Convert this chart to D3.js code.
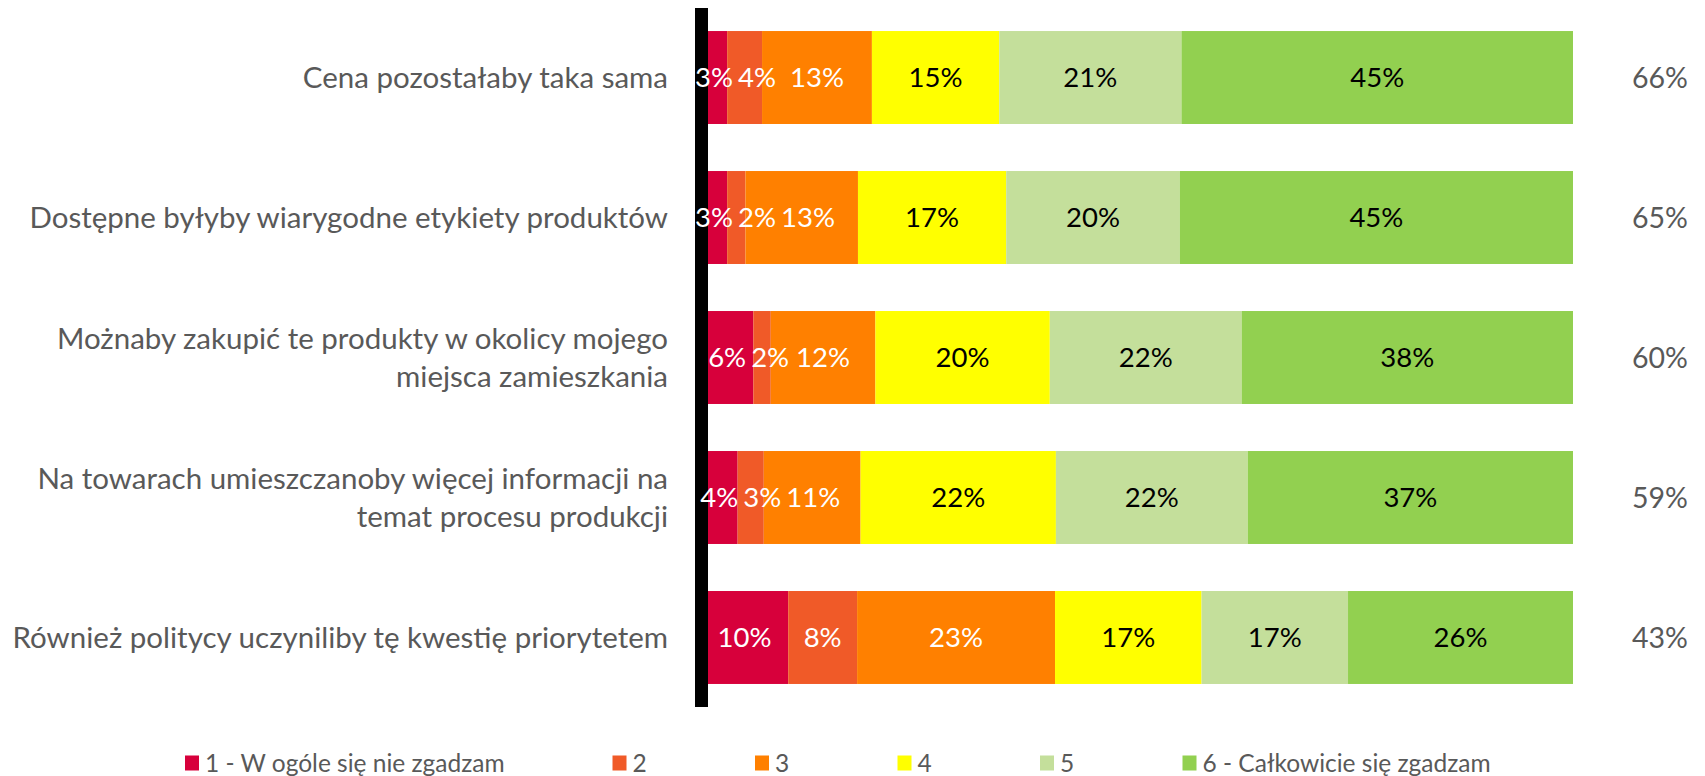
<!DOCTYPE html>
<html lang="pl">
<head>
<meta charset="utf-8">
<title>Wykres</title>
<script src="https://cdn.jsdelivr.net/npm/d3@7"></script>
<style>
  html, body { margin: 0; padding: 0; background: #fff; }
  svg { display: block; font-family: Lato, "Open Sans", sans-serif; }
</style>
</head>
<body>
<div id="chart"></div>
<script>
const categories = [
  "Cena pozostałaby taka sama",
  "Dostępne byłyby wiarygodne etykiety produktów",
  "Możnaby zakupić te produkty w okolicy mojego\nmiejsca zamieszkania",
  "Na towarach umieszczanoby więcej informacji na\ntemat procesu produkcji",
  "Również politycy uczyniliby tę kwestię priorytetem"
];
const seriesNames = ["1 - W ogóle się nie zgadzam", "2", "3", "4", "5", "6 - Całkowicie się zgadzam"];
const sr1 = [3.0, 3.0, 6.0, 4.2, 10.0];
const sr2 = [4.0, 2.1, 2.0, 3.0, 7.9];
const sr3 = [12.6, 12.9, 12.0, 11.1, 22.7];
const sr4 = [14.6, 17.0, 20.0, 22.4, 16.8];
const sr5 = [20.9, 19.9, 22.0, 22.0, 16.8];
const sr6 = [44.9, 45.1, 38.0, 37.3, 25.8];

(function () {
  "use strict";

  const PALETTE = {
    series: ["#d7003b", "#f05a28", "#ff8000", "#ffff00", "#c4df9b", "#92d050"],
    labelOn: ["#ffffff", "#ffffff", "#ffffff", "#000000", "#000000", "#000000"],
    text: "#595959",
    axis: "#000000",
  };

  const width = 1705;
  const height = 776;
  const seriesValues = [sr1, sr2, sr3, sr4, sr5, sr6];

  const rows = categories.map((c, i) => {
    const row = { category: c };
    seriesNames.forEach((s, j) => (row[s] = seriesValues[j][i]));
    return row;
  });

  const stacked = d3.stack().keys(seriesNames)(rows);

  const svg = d3
    .select("#chart")
    .append("svg")
    .attr("width", width)
    .attr("height", height)
    .attr("viewBox", `0 0 ${width} ${height}`);

  const x = d3.scaleLinear().domain([0, 100]).range([701, 1573]);
  const y = d3
    .scaleBand()
    .domain(categories)
    .range([8, 707])
    .paddingInner(0.336)
    .paddingOuter(0.1645);

  svg
    .append("g")
    .selectAll("g")
    .data(stacked)
    .join("g")
    .attr("fill", (d, i) => PALETTE.series[i])
    .selectAll("rect")
    .data((d) => d)
    .join("rect")
    .attr("x", (d) => x(d[0]))
    .attr("y", (d) => y(d.data.category))
    .attr("width", (d) => x(d[1]) - x(d[0]))
    .attr("height", y.bandwidth());

  // thick vertical baseline, over the bars but under the labels
  svg
    .append("line")
    .attr("x1", x(0) + 0.5)
    .attr("x2", x(0) + 0.5)
    .attr("y1", y.range()[0])
    .attr("y2", y.range()[1])
    .attr("stroke", PALETTE.axis)
    .attr("stroke-width", 13);

  // percent labels, one row at a time, centred in their segment; a label
  // that would run into its left neighbour is pushed right (thin segments)
  const labelGap = 5;
  const labelLayer = svg.append("g");
  rows.forEach((row, r) => {
    let prevRight = -Infinity;
    stacked.forEach((layer, i) => {
      const d = layer[r];
      const t = labelLayer
        .append("text")
        .attr("y", y(row.category) + y.bandwidth() / 2)
        .attr("dy", "0.36em")
        .attr("text-anchor", "middle")
        .attr("fill", PALETTE.labelOn[i])
        .attr("font-size", 27.5)
        .text(Math.round(d[1] - d[0]) + "%");
      const w = t.node().getComputedTextLength();
      const cx = Math.max((x(d[0]) + x(d[1])) / 2, prevRight + labelGap + w / 2);
      t.attr("x", cx);
      prevRight = cx + w / 2;
    });
  });

  // category labels, right aligned, manual line breaks
  svg
    .selectAll("text.cat")
    .data(categories)
    .join("text")
    .attr("class", "cat")
    .attr("text-anchor", "end")
    .attr("fill", PALETTE.text)
    .attr("font-size", 29.5)
    .each(function (c) {
      const lines = c.split("\n");
      const cy = y(c) + y.bandwidth() / 2;
      const lh = 38;
      d3.select(this)
        .selectAll("tspan")
        .data(lines)
        .join("tspan")
        .attr("x", 668)
        .attr("y", (l, k) => cy + (k - (lines.length - 1) / 2) * lh)
        .attr("dy", "0.36em")
        .text((l) => l);
    });

  // top-two-box totals (5 + 6) on the right
  svg
    .selectAll("text.total")
    .data(rows)
    .join("text")
    .attr("class", "total")
    .attr("x", 1660)
    .attr("y", (d) => y(d.category) + y.bandwidth() / 2)
    .attr("dy", "0.36em")
    .attr("text-anchor", "middle")
    .attr("fill", PALETTE.text)
    .attr("font-size", 28.5)
    .text((d) => Math.round(d[seriesNames[4]] + d[seriesNames[5]]) + "%");

  // legend on a fixed column grid, long entries take several columns
  const colW = 142.5;
  const legend = svg.append("g").attr("transform", "translate(185,763)");
  let col = 0;
  seriesNames.forEach((s, i) => {
    const item = legend.append("g").attr("transform", `translate(${col * colW},0)`);
    item
      .append("rect")
      .attr("x", 0)
      .attr("y", -7.5)
      .attr("width", 14)
      .attr("height", 15)
      .attr("fill", PALETTE.series[i]);
    const t = item
      .append("text")
      .attr("x", 20)
      .attr("dy", "0.36em")
      .attr("fill", PALETTE.text)
      .attr("font-size", 24.5)
      .text(s);
    col += Math.max(1, Math.ceil((20 + t.node().getComputedTextLength()) / colW));
  });
})();
</script>
</body>
</html>
